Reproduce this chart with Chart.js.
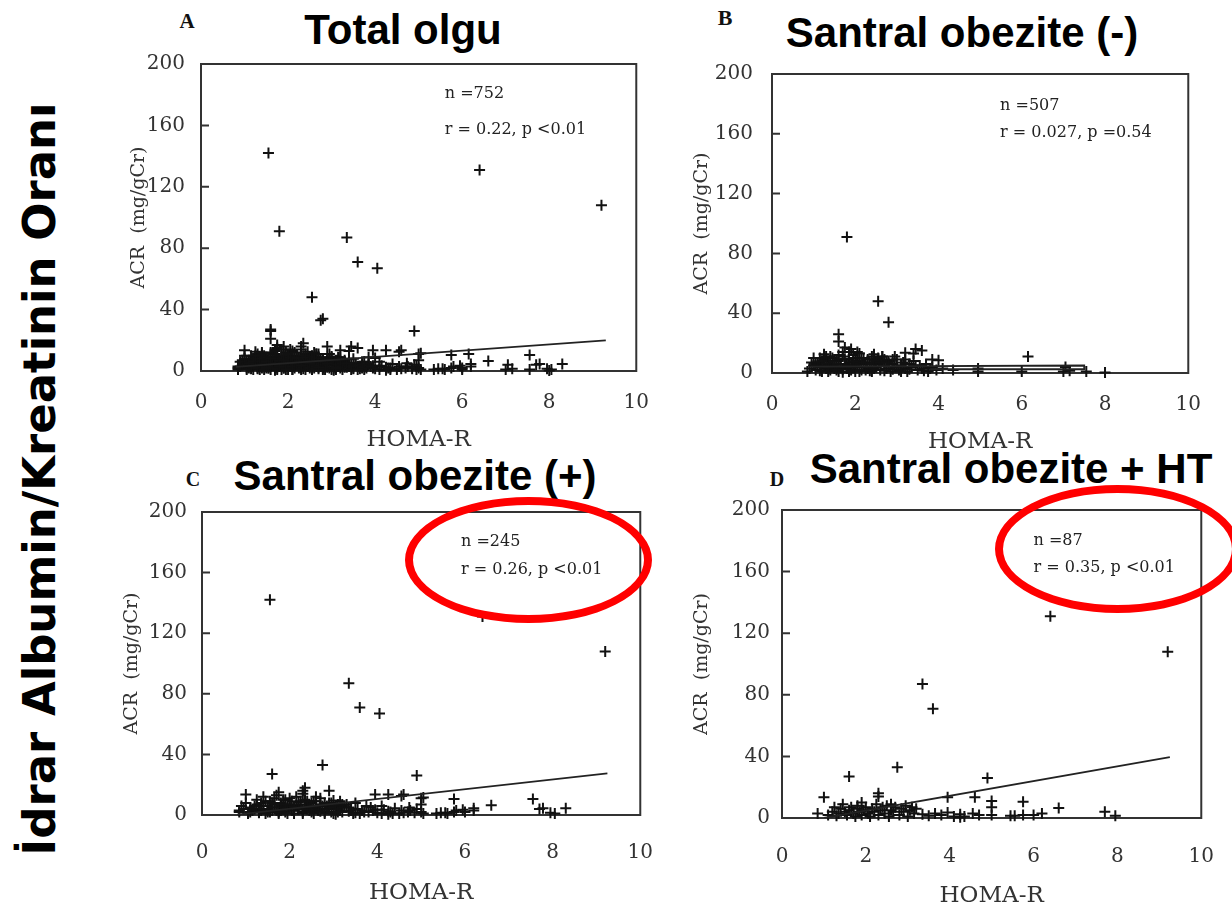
<!DOCTYPE html>
<html lang="tr">
<head>
<meta charset="utf-8">
<title>HOMA-R ve İdrar Albumin/Kreatinin Oranı</title>
<script src="https://cdn.jsdelivr.net/npm/chart.js@4.4.1/dist/chart.umd.min.js"></script>
<style>
  html, body { margin: 0; padding: 0; background: #fff; }
  body { width: 1232px; height: 909px; position: relative; overflow: hidden; }
  canvas { position: absolute; }
  .title { position: absolute; font: bold 42px 'Liberation Sans', Arial, sans-serif; line-height: 42px; white-space: nowrap; transform: translateX(-50%); color: #000; }
  .letter { position: absolute; font: bold 20px 'Liberation Serif', serif; line-height: 20px; color: #111; transform: translate(-50%, -50%); }
  .side { position: absolute; left: 40px; top: 479px; font: bold 45px 'DejaVu Sans', sans-serif; line-height: 48px; white-space: nowrap; color: #000; transform: translate(-50%, -50%) rotate(-90deg); }
  .ring { position: absolute; border: 8px solid #f00; border-radius: 50%; box-sizing: border-box; }
</style>
</head>
<body>

<div class="side">İdrar Albumin/Kreatinin Oranı</div>

<div class="letter" style="left:187px; top:21px; font-size:21px">A</div>
<div class="letter" style="left:725px; top:18px; font-size:22px">B</div>
<div class="letter" style="left:193px; top:479px">C</div>
<div class="letter" style="left:777px; top:479px">D</div>

<div class="title" style="left:403px; top:9px">Total olgu</div>
<div class="title" style="left:962px; top:12px">Santral obezite (-)</div>
<div class="title" style="left:415px; top:455px">Santral obezite (+)</div>
<div class="title" style="left:1011px; top:448px">Santral obezite + HT</div>

<div id="charts"></div>

<div class="ring" style="left:405px; top:497px; width:247px; height:126px"></div>
<div class="ring" style="left:995px; top:485px; width:245px; height:128px"></div>

<script>
// eksen değerleri
const xTicks = [0, 2, 4, 6, 8, 10];
const yTicks = [0, 40, 80, 120, 160, 200];

// D: santral obezite + HT (HOMA-R, ACR)
const ptsD = [
  [6.4, 131], [9.2, 108], [3.35, 87], [3.6, 71], [2.75, 33], [1.6, 27], [4.9, 26],
  [1.0, 13.5], [2.3, 16], [2.3, 14], [3.95, 13.5], [4.6, 13.5], [5.0, 11], [5.0, 7],
  [5.0, 2], [5.75, 10.5], [5.75, 2], [6.6, 6.5], [7.7, 4], [7.95, 1.5], [6.2, 3],
  [6.0, 2], [5.45, 1.5], [5.55, 1.5],
  [0.85, 3], [1.1, 2], [1.2, 4], [1.3, 1.5], [1.35, 3], [1.4, 6], [1.45, 9], [1.5, 4],
  [1.55, 2], [1.6, 5], [1.65, 7], [1.7, 3], [1.75, 1], [1.8, 6], [1.8, 8], [1.85, 4],
  [1.9, 2], [1.95, 5], [2.0, 7], [2.05, 3], [2.1, 1], [2.15, 6], [2.2, 4], [2.25, 9],
  [2.3, 2], [2.35, 5], [2.4, 7], [2.45, 3], [2.5, 8], [2.55, 1], [2.6, 5], [2.65, 4],
  [2.7, 7], [2.8, 2], [2.85, 6], [2.9, 4], [2.95, 8], [3.0, 1], [3.05, 5], [3.1, 7],
  [3.15, 3], [3.2, 6], [1.25, 7], [1.9, 10], [2.6, 9],
  [3.35, 2.5], [3.5, 1.5], [3.65, 3], [3.8, 2], [3.95, 3.5], [4.1, 1], [4.25, 2.5],
  [4.35, 1], [4.55, 3], [4.7, 2], [4.25, 0.5]
];

// C: santral obezite (+), HT olmayanlar (D ile birlikte C'yi oluşturur)
const ptsCx = [
  [1.55, 142], [4.05, 67], [2.9, 16], [1.75, 15], [4.25, 13.5], [4.55, 12.5], [5.05, 11.5],
  [5.05, 1], [5.8, 3], [7.55, 10.5], [7.78, 4.5], [8.05, 1], [8.3, 4.5], [6.2, 4.5],
  [5.95, 3.5], [5.35, 1], [5.6, 1], [4.73, 5], [2.35, 18],
  [0.85, 2], [0.95, 4], [1.05, 1], [1.15, 3], [1.2, 6], [1.3, 2], [1.35, 8], [1.4, 4],
  [1.45, 1], [1.5, 6], [1.55, 9], [1.6, 3], [1.65, 11], [1.7, 5], [1.75, 2], [1.8, 7],
  [1.85, 10], [1.9, 4], [1.95, 1], [2.0, 6], [2.05, 9], [2.1, 3], [2.15, 12], [2.2, 5],
  [2.25, 7], [2.3, 1], [2.35, 10], [2.4, 4], [2.45, 6], [2.5, 2], [2.55, 9], [2.6, 5],
  [2.65, 3], [2.7, 11], [2.75, 6], [2.8, 1], [2.85, 4], [2.9, 8], [2.95, 2], [3.0, 6],
  [3.05, 0.5], [3.1, 4], [3.15, 9], [3.2, 2], [3.25, 5], [3.3, 7], [3.4, 3], [3.45, 1],
  [3.55, 4], [3.7, 2], [3.85, 5], [4.0, 1.5], [4.15, 3.5], [4.4, 4.5], [4.5, 1],
  [4.75, 3], [4.85, 1.5],
  [0.9, 6], [1.0, 8], [1.1, 5], [1.25, 10], [1.4, 12], [1.5, 2], [1.6, 8], [1.7, 13],
  [1.8, 3], [1.9, 7], [2.0, 11], [2.1, 5.5], [2.2, 8.5], [2.3, 3.5], [2.4, 9], [2.5, 5],
  [2.6, 12], [2.7, 2.5], [2.8, 8], [2.9, 5], [3.0, 9.5], [3.1, 2], [3.2, 7], [3.35, 5],
  [3.5, 8], [3.6, 1], [3.75, 6], [3.9, 3], [4.1, 6], [4.3, 2], [4.6, 1.5], [4.9, 4]
];

// B: santral obezite (-)
const ptsB = [
  [1.8, 91], [2.55, 48], [2.8, 34], [1.6, 26], [1.6, 21], [1.75, 17], [3.2, 13.5],
  [3.45, 16], [3.4, 13], [3.85, 9], [6.15, 11], [4.1, 3], [4.95, 3], [4.95, 1],
  [7.05, 4], [7.0, 1], [7.15, 1.5], [7.55, 1], [8.0, 0.3], [6.0, 1],
  [1.9, 16], [2.05, 14], [2.65, 11], [3.6, 15], [4.0, 8.5], [4.35, 2],
  [0.85, 1], [0.9, 3], [1.0, 5], [1.05, 2], [1.1, 7], [1.15, 4], [1.2, 1], [1.25, 9],
  [1.3, 3], [1.35, 6], [1.4, 2], [1.45, 10], [1.5, 5], [1.55, 8], [1.6, 1], [1.65, 4],
  [1.7, 11], [1.75, 6], [1.8, 3], [1.85, 9], [1.9, 2], [1.95, 12], [2.0, 5], [2.05, 8],
  [2.1, 1], [2.15, 4], [2.2, 10], [2.25, 6], [2.3, 3], [2.35, 7], [2.4, 1], [2.45, 9],
  [2.5, 4], [2.55, 6], [2.6, 2], [2.65, 11], [2.7, 5], [2.75, 3], [2.8, 8], [2.85, 1],
  [2.9, 6], [2.95, 4], [3.0, 9], [3.05, 2], [3.1, 5], [3.15, 7], [3.2, 3], [3.25, 1],
  [3.3, 6], [3.35, 4], [3.4, 8], [3.5, 2], [3.55, 5], [3.6, 3], [3.7, 6], [3.75, 1],
  [3.85, 4], [3.95, 2], [1.15, 10], [1.4, 8], [1.6, 12], [1.85, 14], [2.1, 13],
  [2.4, 11], [2.55, 10], [1.3, 11], [2.0, 1], [1.7, 0.5], [2.25, 2], [2.9, 2.5],
  [1.05, 6], [1.5, 3], [2.7, 9], [3.2, 9],
  [0.95, 7], [1.0, 10], [1.1, 4.5], [1.15, 1.5], [1.2, 8], [1.25, 5], [1.3, 6.5],
  [1.35, 1], [1.4, 11], [1.45, 4], [1.5, 7.5], [1.55, 2], [1.6, 9], [1.65, 6], [1.7, 2.5],
  [1.75, 9.5], [1.8, 5], [1.85, 1], [1.9, 7], [1.95, 3.5], [2.0, 10], [2.05, 6], [2.1, 8],
  [2.15, 2], [2.2, 7], [2.25, 4], [2.3, 9], [2.35, 1.5], [2.4, 6], [2.45, 3], [2.5, 8],
  [2.6, 7], [2.7, 1.5], [2.75, 7], [2.8, 4.5], [2.9, 9], [3.0, 4], [3.1, 1], [3.2, 6],
  [3.3, 2.5], [3.45, 5], [3.65, 1.5], [3.8, 3], [1.25, 12.5], [1.7, 14], [2.45, 12.5],
  [2.95, 11], [1.35, 3.5], [2.15, 9.5], [1.95, 7.5]
];

const ptsC = ptsD.concat(ptsCx);
const ptsA = ptsB.concat(ptsC);

// regresyon doğruları
const regA = [[0.8, 2.7], [9.3, 20]];
const regB = [[0.9, 4.2], [7.5, 5], [7.5, 2.5], [3.8, 2.5]];
const regC = [[0.8, 0.3], [9.25, 27.5]];
const regD = [[1.0, 0], [9.25, 39.5]];

// istatistik metinleri
const statsA = ['n =752', 'r = 0.22, p <0.01'];
const statsB = ['n =507', 'r = 0.027, p =0.54'];
const statsC = ['n =245', 'r = 0.26, p <0.01'];
const statsD = ['n =87', 'r = 0.35, p <0.01'];

const AXW = 100;   // y ekseni alanı
const AXH = 100;   // x ekseni alanı
const PAD = 24;
const ink = '#222';
const serif = "'DejaVu Serif', 'Liberation Serif', serif";

const panels = [
  { box: [201, 60, 645, 371], pts: ptsA, reg: regA, stats: statsA, statAt: [5.6, 180.7, 157],
    yPad: 16, xPad: 20, xTitlePad: 17, yTitlePad: 27 },
  { box: [772, 67, 1197, 373], pts: ptsB, reg: regB, stats: statsB, statAt: [5.48, 178.4, 160.8],
    yPad: 19, xPad: 20, xTitlePad: 17, yTitlePad: 19 },
  { box: [202, 509, 655, 815], pts: ptsC, reg: regC, stats: statsC, statAt: [5.91, 180.4, 162],
    yPad: 15, xPad: 26, xTitlePad: 8, yTitlePad: 19 },
  { box: [782, 510, 1217, 818], pts: ptsD, reg: regD, stats: statsD, statAt: [6.0, 179.9, 162.3],
    yPad: 12, xPad: 27, xTitlePad: 8, yTitlePad: 9 }
];

const toXY = arr => arr.map(([x, y]) => ({ x, y }));

// çerçeve, iç tik işaretleri ve istatistik yazısı
const framePlugin = {
  id: 'frame',
  beforeDatasetsDraw(chart, args, opts) {
    const { ctx, chartArea: a, scales: { y } } = chart;
    ctx.save();
    ctx.strokeStyle = '#333';
    ctx.lineWidth = 2;
    ctx.strokeRect(a.left, a.top, a.right - a.left, a.bottom - a.top);
    ctx.beginPath();
    y.ticks.forEach(t => {
      const py = y.getPixelForValue(t.value);
      ctx.moveTo(a.left, py);
      ctx.lineTo(a.left + 8, py);
    });
    ctx.stroke();
    ctx.restore();
  },
  afterDraw(chart, args, opts) {
    const { ctx, scales: { x, y } } = chart;
    const [sx, sy1, sy2] = opts.at;
    ctx.save();
    ctx.fillStyle = ink;
    ctx.font = "16px " + serif;
    ctx.textAlign = 'left';
    ctx.textBaseline = 'middle';
    ctx.fillText(opts.lines[0], x.getPixelForValue(sx), y.getPixelForValue(sy1));
    ctx.fillText(opts.lines[1], x.getPixelForValue(sx), y.getPixelForValue(sy2));
    ctx.restore();
  }
};

function makePanel(p) {
  const [L, T, R, B] = p.box;
  const cv = document.createElement('canvas');
  cv.width = AXW + (R - L) + PAD;
  cv.height = PAD + (B - T) + AXH;
  cv.style.left = (L - AXW) + 'px';
  cv.style.top = (T - PAD) + 'px';
  document.getElementById('charts').appendChild(cv);

  new Chart(cv, {
    type: 'scatter',
    data: {
      datasets: [
        {
          type: 'line',
          data: toXY(p.reg),
          borderColor: ink,
          borderWidth: 1.8,
          pointRadius: 0,
          fill: false,
          tension: 0
        },
        {
          data: toXY(p.pts),
          pointStyle: 'cross',
          pointRadius: 5.5,
          borderWidth: 2,
          borderColor: '#111',
          backgroundColor: '#111',
          clip: false
        }
      ]
    },
    options: {
      responsive: false,
      animation: false,
      devicePixelRatio: 1,
      layout: { padding: { top: PAD, right: PAD, left: 0, bottom: 0 } },
      plugins: {
        legend: { display: false },
        tooltip: { enabled: false },
        frame: { lines: p.stats, at: p.statAt }
      },
      scales: {
        x: {
          type: 'linear',
          min: 0,
          max: 10,
          afterBuildTicks: s => { s.ticks = xTicks.map(v => ({ value: v })); },
          afterFit: s => { s.height = AXH; },
          grid: { display: false, drawTicks: false },
          border: { display: false },
          ticks: { color: '#333', font: { family: serif, size: 20 }, padding: p.xPad, maxRotation: 0 },
          title: {
            display: true,
            text: 'HOMA-R',
            color: '#333',
            font: { family: serif, size: 23 },
            padding: { top: 0, bottom: p.xTitlePad }
          }
        },
        y: {
          type: 'linear',
          min: 0,
          max: 200,
          afterBuildTicks: s => { s.ticks = yTicks.map(v => ({ value: v })); },
          afterFit: s => { s.width = AXW; },
          grid: { display: false, drawTicks: false },
          border: { display: false },
          ticks: { color: '#333', font: { family: serif, size: 20 }, padding: p.yPad },
          title: {
            display: true,
            text: 'ACR  (mg/gCr)',
            color: '#333',
            font: { family: serif, size: 19 },
            padding: { top: p.yTitlePad, bottom: 0 }
          }
        }
      }
    },
    plugins: [framePlugin]
  });
}

panels.forEach(makePanel);
</script>
</body>
</html>
